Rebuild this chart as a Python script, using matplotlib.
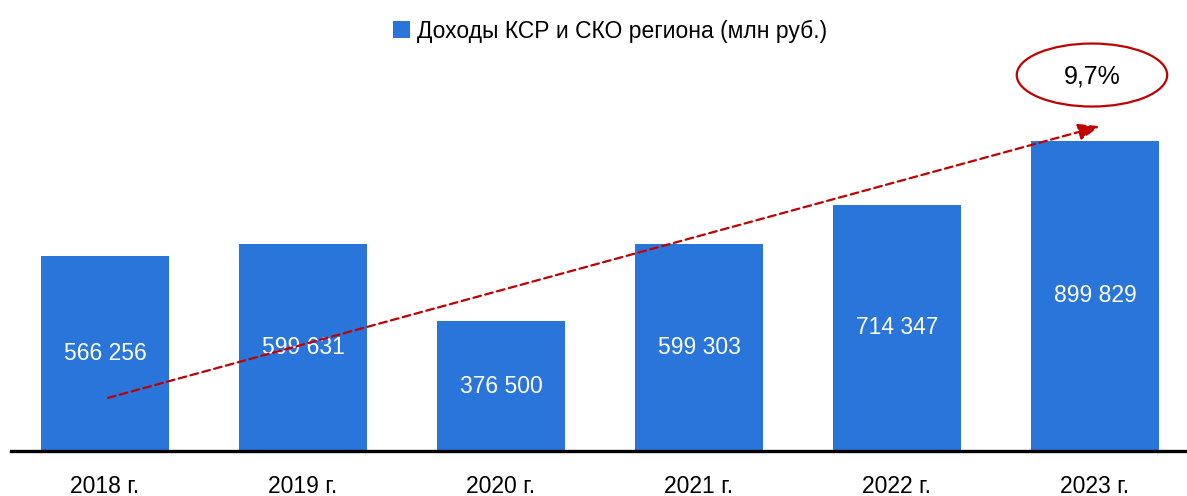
import matplotlib
matplotlib.use("Agg")
import matplotlib.pyplot as plt
from matplotlib.patches import Ellipse
from matplotlib import font_manager

categories = ["2018 г.", "2019 г.", "2020 г.", "2021 г.", "2022 г.", "2023 г."]
values = [566256, 599631, 376500, 599303, 714347, 899829]
value_labels = ["566 256", "599 631", "376 500", "599 303", "714 347", "899 829"]
series_name = "Доходы КСР и СКО региона (млн руб.)"
growth_label = "9,7%"

names = {f.name for f in font_manager.fontManager.ttflist}
fam = [f for f in ["Liberation Sans Narrow", "Liberation Sans", "DejaVu Sans"] if f in names]
plt.rcParams['font.family'] = fam

BLUE = "#2A75DA"
RED = "#C00000"

W, H = 1187, 496
fig = plt.figure(figsize=(W / 100, H / 100), dpi=100)
ax_left = 11 / W
ax_bottom = 45 / H
ax_top = 20 / H
ax = fig.add_axes([ax_left, ax_bottom, 1 - ax_left, 1 - ax_bottom - ax_top])

x = list(range(len(categories)))
bars = ax.bar(x, values, width=0.646, color=BLUE, label=series_name, zorder=2)
ax.set_xlim(-0.475, 5.465)
ax.set_ylim(0, 1250000)

for xi, v, lab in zip(x, values, value_labels):
    ax.text(xi, v / 2, lab, ha="center", va="center", color="white", fontsize=16.5, zorder=4)

for s in ["top", "right", "left"]:
    ax.spines[s].set_visible(False)
ax.spines["bottom"].set_linewidth(2.4)
ax.spines["bottom"].set_color("black")
ax.set_yticks([])
ax.set_xticks(x)
ax.set_xticklabels(categories, fontsize=16.5)
ax.tick_params(axis="x", length=0, pad=17)

# trend arrow
ax.annotate("", xy=(5.025, 942000), xytext=(0.015, 154000),
            arrowprops=dict(arrowstyle="-|>,head_length=0.65,head_width=0.25",
                            mutation_scale=20,
                            color=RED, lw=1.6, linestyle=(0, (3.5, 2)),
                            shrinkA=0, shrinkB=0),
            zorder=5)

# ellipse with growth label
ell = Ellipse((4.985, (451 - 75) * 2900), width=0.76, height=63 * 2900,
              facecolor="white", edgecolor=RED, lw=1.6, zorder=5, clip_on=False)
ax.add_patch(ell)
ax.text(4.985, (451 - 76) * 2900, growth_label, ha="center", va="center",
        fontsize=18, color="black", zorder=6)

leg = fig.legend(handles=[bars], labels=[series_name], loc="center",
                 bbox_to_anchor=(610 / W, 1 - 31 / H), frameon=False,
                 fontsize=16.5, handlelength=0.75, handleheight=0.75,
                 handletextpad=0.3, borderaxespad=0)

fig.savefig("out.png", dpi=100)
